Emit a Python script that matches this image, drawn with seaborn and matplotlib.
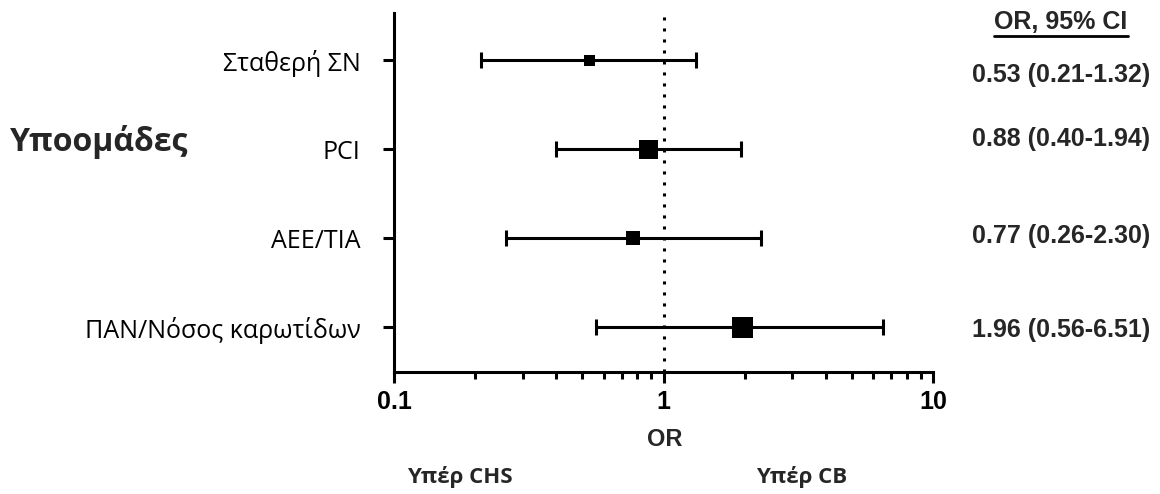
import numpy as np
import pandas as pd
import matplotlib
matplotlib.use("Agg")
import matplotlib.pyplot as plt
from matplotlib.lines import Line2D
from matplotlib.transforms import blended_transform_factory
import seaborn as sns

# data
groups = ["Σταθερή ΣΝ", "PCI", "ΑΕΕ/TIA", "ΠΑΝ/Νόσος καρωτίδων"]
odds = [0.53, 0.88, 0.77, 1.96]
ci_low = [0.21, 0.40, 0.26, 0.56]
ci_high = [1.32, 1.94, 2.30, 6.51]
ci_text = ["0.53 (0.21-1.32)", "0.88 (0.40-1.94)", "0.77 (0.26-2.30)", "1.96 (0.56-6.51)"]
x_ticks = [0.1, 1, 10]
x_ticklabels = ["0.1", "1", "10"]

df = pd.DataFrame({"group": groups, "OR": odds, "lo": ci_low, "hi": ci_high})
df["pos"] = np.arange(len(df))

sns.set_theme(style="ticks")
plt.rcParams["font.family"] = ["Open Sans", "DejaVu Sans"]

fig = plt.figure(figsize=(11.6, 4.94), dpi=100)
ax = fig.add_axes([0.3397, 0.247, 0.8043 - 0.3397, 0.9737 - 0.247])

lw = 2.2
# confidence intervals
ax.errorbar(df["OR"], df["pos"], xerr=[df["OR"] - df["lo"], df["hi"] - df["OR"]],
            fmt="none", ecolor="black", elinewidth=lw, capsize=5.5, capthick=lw, zorder=2)
# boxes, size ~ weight
box_area = {g: a for g, a in zip(groups, [62, 188, 102, 228])}
sns.scatterplot(data=df, x="OR", y="pos", size="group", sizes=box_area, marker="s",
                color="black", linewidth=0, legend=False, ax=ax, zorder=3)

ax.axvline(1, color="black", lw=2.2, linestyle=(0, (1, 2.6)), zorder=1)

ax.set_xscale("log")
ax.set_xlim(0.1, 10)
ax.set_ylim(3.5, -0.53)
ax.set_xticks(x_ticks)
ax.set_xticklabels(x_ticklabels, fontfamily="Liberation Sans", fontweight="bold", fontsize=18)
ax.set_yticks(df["pos"])
ax.set_yticklabels(groups, fontsize=18)
ax.set_xlabel("")
ax.set_ylabel("")

sns.despine(ax=ax)
for s in ["left", "bottom"]:
    ax.spines[s].set_linewidth(lw)
    ax.spines[s].set_color("black")
ax.tick_params(axis="y", length=8, width=lw, pad=16, colors="black")
ax.tick_params(axis="x", which="major", length=8, width=lw, pad=5, colors="black")
ax.tick_params(axis="x", which="minor", length=5, width=lw, colors="black")

# right hand OR column
tr = blended_transform_factory(fig.transFigure, ax.transData)
for txt, ypos in zip(ci_text, [0.17, 0.89, 1.97, 3.03]):
    ax.text(972 / 1160, ypos, txt, transform=tr, ha="left", va="center",
            fontfamily="Liberation Sans", fontweight="bold", fontsize=18)

hdr = fig.text(1061 / 1160, 1 - 22 / 494, "OR, 95% CI", ha="center", va="center",
               fontfamily="Liberation Sans", fontweight="bold", fontsize=18)

fig.text(10 / 1160, 1 - 142 / 494, "Υποομάδες", ha="left", va="center", fontsize=23, fontweight="bold")
fig.text(665 / 1160, 1 - 439 / 494, "OR", ha="center", va="center",
         fontfamily="Liberation Sans", fontweight="bold", fontsize=17)
fig.text(460 / 1160, 1 - 477 / 494, "Υπέρ CHS", ha="center", va="center", fontsize=16, fontweight="bold")
fig.text(802 / 1160, 1 - 477 / 494, "Υπέρ CB", ha="center", va="center", fontsize=16, fontweight="bold")

# underline the header
fig.canvas.draw()
bb = hdr.get_window_extent().transformed(fig.transFigure.inverted())
fig.add_artist(Line2D([bb.x0, bb.x1], [bb.y0 - 0.004, bb.y0 - 0.004], color="black", lw=2,
                      transform=fig.transFigure))

fig.savefig("out.png", dpi=100)
